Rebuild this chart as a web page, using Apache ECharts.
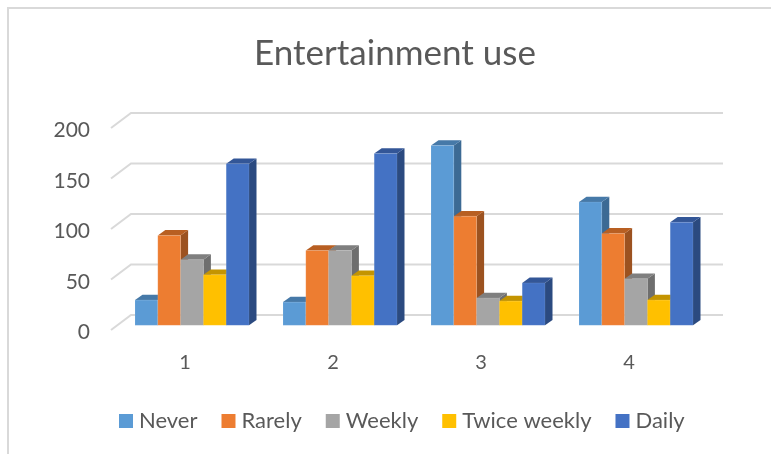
<!DOCTYPE html>
<html><head><meta charset="utf-8">
<style>html,body{margin:0;padding:0;background:#fff}#c{width:771px;height:454px}</style>
<script src="https://cdn.jsdelivr.net/npm/echarts@6/dist/echarts.min.js"></script>
</head><body><div id="c"></div>
<script>
const titleText = 'Entertainment use';
const categories = ['1', '2', '3', '4'];
const ticks = [0, 50, 100, 150, 200];
const never = [25, 23, 178, 122];
const rarely = [89, 74, 108, 91];
const weekly = [65, 74, 27, 46];
const twiceWeekly = [50, 49, 24, 25];
const daily = [160, 170, 42, 102];
const seriesNames = ['Never', 'Rarely', 'Weekly', 'Twice weekly', 'Daily'];
const seriesValues = [never, rarely, weekly, twiceWeekly, daily];
const colors = ['#5B9BD5', '#ED7D31', '#A5A5A5', '#FFC000', '#4472C4'];
const topColors = ['#4679A8', '#B85F22', '#7F7F7F', '#C49400', '#335697'];
const sideColors = ['#3C6A94', '#9C5220', '#6E6E6E', '#A67C00', '#2B4A80'];

const FONT = 'Lato';
const TEXT = '#595959';
const GRID = '#D9D9D9';
const WALL = [20, -15];
const BAR_PLANE = [7, -4.7];
const BAR_DEPTH = [7.5, -5.3];
const BAR_W = 22.8;

function barItem(si) {
  return function (params, api) {
    const idx = api.value(0), val = api.value(1);
    const top = api.coord([idx, val]);
    const base = api.coord([idx, 0]);
    const x0 = top[0] + BAR_PLANE[0] + (si - 2.5) * BAR_W;
    const x1 = x0 + BAR_W;
    const y0 = top[1] + BAR_PLANE[1];
    const yb = base[1] + BAR_PLANE[1];
    const dx = BAR_DEPTH[0], dy = BAR_DEPTH[1];
    const edge = { stroke: 'rgba(255,255,255,0.18)', lineWidth: 0.6 };
    return { type: 'group', children: [
      { type: 'polygon', shape: { points: [[x1, y0], [x1 + dx, y0 + dy], [x1 + dx, yb + dy], [x1, yb]] },
        style: { fill: sideColors[si] } },
      { type: 'polygon', shape: { points: [[x0, y0], [x0 + dx, y0 + dy], [x1 + dx, y0 + dy], [x1, y0]] },
        style: { fill: topColors[si] } },
      { type: 'rect', shape: { x: x0, y: y0, width: BAR_W, height: yb - y0 },
        style: Object.assign({ fill: colors[si] }, edge) }
    ] };
  };
}

const wallSeries = {
  type: 'custom', name: 'walls', silent: true, z: 1,
  data: ticks.map(v => [0, v]),
  encode: { x: 0, y: 1 },
  renderItem: function (params, api) {
    const p = api.coord([0, api.value(1)]);
    const L = params.coordSys.x, R = L + params.coordSys.width;
    const st = { stroke: GRID, lineWidth: 2, fill: null };
    return { type: 'group', children: [
      { type: 'polyline', shape: { points: [[L, p[1]], [L + WALL[0], p[1] + WALL[1]], [R + WALL[0], p[1] + WALL[1]]] }, style: st }
    ] };
  }
};

const chart = echarts.init(document.getElementById('c'), null, { renderer: 'canvas' });
chart.setOption({
  animation: false,
  backgroundColor: '#fff',
  textStyle: { fontFamily: FONT },
  title: { text: titleText, left: 390, top: 31, textAlign: 'center',
    textStyle: { fontFamily: FONT, fontSize: 35, fontWeight: 'normal', color: TEXT } },
  grid: { left: 111, right: 68, top: 128, bottom: 124 },
  xAxis: { type: 'category', data: categories,
    axisLine: { show: false }, axisTick: { show: false }, splitLine: { show: false },
    axisLabel: { margin: 23, fontFamily: FONT, fontSize: 20, color: TEXT } },
  yAxis: { type: 'value', min: 0, max: 200, interval: 50,
    axisLine: { show: false }, axisTick: { show: false }, splitLine: { show: false },
    axisLabel: { margin: 21, formatter: '{a|{value}}',
      rich: { a: { fontFamily: FONT, fontSize: 21, color: TEXT, padding: [5, 0, 0, 0] } } } },
  legend: { left: 114, top: 405, itemWidth: 14, itemHeight: 14, itemGap: 24, icon: 'rect',
    selectedMode: false,
    data: seriesNames,
    textStyle: { fontFamily: FONT, fontSize: 22, color: TEXT, padding: [0, 0, 0, 1] } },
  graphic: [
    { type: 'polyline', silent: true, z: 0,
      shape: { points: [[8, 454], [8, 8], [771, 8]] },
      style: { stroke: GRID, lineWidth: 2, fill: null } }
  ],
  series: [wallSeries].concat(seriesNames.map((name, si) => ({
    type: 'custom', name, z: 2,
    itemStyle: { color: colors[si] },
    data: seriesValues[si].map((v, i) => [i, v]),
    encode: { x: 0, y: 1 },
    renderItem: barItem(si)
  })))
});
</script></body></html>
